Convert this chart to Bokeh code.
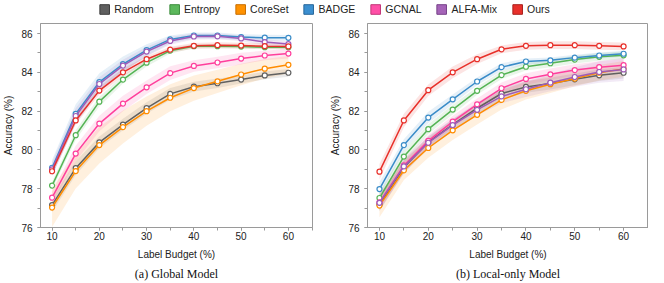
from bokeh.plotting import figure
from bokeh.layouts import column, row
from bokeh.models import ColumnDataSource, Legend, LegendItem, SingleIntervalTicker, Range1d
from bokeh.embed import file_html
from bokeh.resources import INLINE

budget = [10, 15, 20, 25, 30, 35, 40, 45, 50, 55, 60]
methods = ["Random", "Entropy", "CoreSet", "BADGE", "GCNAL", "ALFA-Mix", "Ours"]
colors = ["#606060", "#55b455", "#ff8c00", "#3a8cc8", "#ff3f9c", "#9e5cb8", "#e8302a"]
box_fill = ["#5f5f5f", "#5cb85c", "#ff9200", "#3b8fd0", "#ff4fa7", "#a564b8", "#e8302b"]
box_line = ["#3c3c3c", "#3e8e3e", "#c86e00", "#28679a", "#c23577", "#774289", "#a8201c"]

# (a) Global Model: mean accuracy
random_g = [77.15, 79.06, 80.39, 81.31, 82.16, 82.89, 83.26, 83.44, 83.63, 83.84, 83.98]
entropy_g = [78.16, 80.76, 82.49, 83.63, 84.50, 85.12, 85.35, 85.35, 85.33, 85.30, 85.29]
coreset_g = [77.03, 78.91, 80.25, 81.18, 82.00, 82.69, 83.19, 83.54, 83.89, 84.19, 84.39]
badge_g = [79.08, 81.86, 83.50, 84.42, 85.15, 85.70, 85.90, 85.90, 85.82, 85.79, 85.78]
gcnal_g = [77.54, 79.81, 81.36, 82.39, 83.23, 83.96, 84.33, 84.51, 84.71, 84.87, 84.97]
alfamix_g = [79.00, 81.75, 83.40, 84.35, 85.07, 85.62, 85.85, 85.86, 85.75, 85.56, 85.46]
ours_g = [78.90, 81.52, 83.06, 84.00, 84.68, 85.17, 85.37, 85.40, 85.38, 85.35, 85.34]

# (a) Global Model: std (shaded band)
random_g_sd = [0.35, 0.35, 0.30, 0.30, 0.30, 0.30, 0.25, 0.25, 0.20, 0.20, 0.20]
entropy_g_sd = [0.20, 0.25, 0.25, 0.20, 0.20, 0.15, 0.10, 0.10, 0.10, 0.10, 0.10]
coreset_g_sd = [1.00, 0.90, 0.95, 0.85, 0.75, 0.70, 0.65, 0.60, 0.55, 0.50, 0.45]
badge_g_sd = [0.40, 0.50, 0.45, 0.40, 0.30, 0.20, 0.15, 0.15, 0.15, 0.15, 0.15]
gcnal_g_sd = [0.30, 0.40, 0.40, 0.40, 0.35, 0.35, 0.30, 0.30, 0.30, 0.25, 0.25]
alfamix_g_sd = [0.35, 0.40, 0.35, 0.30, 0.25, 0.20, 0.15, 0.15, 0.15, 0.15, 0.15]
ours_g_sd = [0.20, 0.20, 0.20, 0.20, 0.15, 0.15, 0.15, 0.15, 0.15, 0.15, 0.15]

# (b) Local-only Model: mean accuracy
random_l = [77.20, 79.10, 80.40, 81.30, 82.15, 82.91, 83.25, 83.42, 83.64, 83.85, 83.98]
entropy_l = [77.52, 79.66, 81.07, 82.08, 83.05, 83.86, 84.29, 84.47, 84.66, 84.80, 84.88]
coreset_l = [77.13, 78.95, 80.10, 81.01, 81.81, 82.58, 83.05, 83.39, 83.68, 83.98, 84.18]
badge_l = [77.98, 80.25, 81.67, 82.61, 83.53, 84.27, 84.56, 84.62, 84.76, 84.87, 84.96]
gcnal_l = [77.30, 79.20, 80.47, 81.46, 82.35, 83.18, 83.66, 83.90, 84.12, 84.27, 84.37]
alfamix_l = [77.27, 79.15, 80.37, 81.28, 82.07, 82.76, 83.13, 83.47, 83.76, 84.02, 84.15]
ours_l = [78.88, 81.52, 83.08, 84.00, 84.68, 85.19, 85.37, 85.40, 85.40, 85.37, 85.34]

# (b) Local-only Model: std (shaded band)
random_l_sd = [0.35, 0.30, 0.30, 0.30, 0.30, 0.30, 0.30, 0.30, 0.30, 0.30, 0.30]
entropy_l_sd = [0.30, 0.30, 0.25, 0.25, 0.20, 0.20, 0.20, 0.20, 0.20, 0.20, 0.20]
coreset_l_sd = [0.60, 0.50, 0.50, 0.50, 0.50, 0.50, 0.45, 0.45, 0.40, 0.40, 0.40]
badge_l_sd = [0.35, 0.30, 0.30, 0.25, 0.20, 0.20, 0.15, 0.15, 0.15, 0.15, 0.15]
gcnal_l_sd = [0.40, 0.35, 0.30, 0.30, 0.30, 0.30, 0.30, 0.30, 0.30, 0.30, 0.30]
alfamix_l_sd = [0.40, 0.35, 0.30, 0.30, 0.30, 0.35, 0.40, 0.45, 0.50, 0.55, 0.60]
ours_l_sd = [0.40, 0.35, 0.30, 0.30, 0.25, 0.20, 0.20, 0.20, 0.20, 0.20, 0.20]

global_means = [random_g, entropy_g, coreset_g, badge_g, gcnal_g, alfamix_g, ours_g]
global_sds = [random_g_sd, entropy_g_sd, coreset_g_sd, badge_g_sd, gcnal_g_sd, alfamix_g_sd, ours_g_sd]
local_means = [random_l, entropy_l, coreset_l, badge_l, gcnal_l, alfamix_l, ours_l]
local_sds = [random_l_sd, entropy_l_sd, coreset_l_sd, badge_l_sd, gcnal_l_sd, alfamix_l_sd, ours_l_sd]

SANS = "Liberation Sans"
SERIF = "Liberation Serif"
GRAY = "#9a9a9a"


def make_panel(means, sds, caption, left_border, right_border):
    p = figure(width=left_border + 281 + right_border, height=264,
               x_range=Range1d(7.55, 65.1), y_range=Range1d(76, 86.52),
               toolbar_location=None, output_backend="svg",
               min_border_left=left_border, min_border_right=right_border,
               min_border_top=5, min_border_bottom=52,
               title=caption, title_location="below")
    p.title.align = "center"
    p.title.text_font = SERIF
    p.title.text_font_size = "12px"
    p.title.text_font_style = "normal"
    p.title.text_color = "#111111"
    p.title.standoff = 4
    p.xgrid.visible = False
    p.ygrid.visible = False
    p.outline_line_color = GRAY
    p.outline_line_width = 1
    p.background_fill_color = "white"
    p.border_fill_color = "white"

    p.xaxis.ticker = SingleIntervalTicker(interval=10, num_minor_ticks=2)
    p.yaxis.ticker = SingleIntervalTicker(interval=2, num_minor_ticks=2)
    p.xaxis.axis_label = "Label Budget (%)"
    p.yaxis.axis_label = "Accuracy (%)"
    for ax in (p.xaxis, p.yaxis):
        ax.axis_line_color = GRAY
        ax.major_tick_line_color = GRAY
        ax.minor_tick_line_color = GRAY
        ax.major_tick_out = 3
        ax.major_tick_in = 0
        ax.minor_tick_out = 3
        ax.minor_tick_in = 0
        ax.major_label_text_font = SANS
        ax.major_label_text_font_size = "10px"
        ax.major_label_text_color = "#222222"
        ax.axis_label_text_font = SANS
        ax.axis_label_text_font_size = "10px"
        ax.axis_label_text_font_style = "normal"
        ax.axis_label_text_color = "#222222"
    p.xaxis.major_label_standoff = 1
    p.xaxis.axis_label_standoff = 6
    p.yaxis.major_label_standoff = 5
    p.yaxis.axis_label_standoff = 4

    sources = []
    for m, s in zip(means, sds):
        lower = [a - b for a, b in zip(m, s)]
        upper = [a + b for a, b in zip(m, s)]
        sources.append(ColumnDataSource(dict(x=budget, y=m, lo=lower, hi=upper)))
    for src, c in zip(sources, colors):
        p.varea(x="x", y1="lo", y2="hi", source=src, fill_color=c, fill_alpha=0.13)
    for src, c in zip(sources, colors):
        p.line(x="x", y="y", source=src, line_color=c, line_width=1.5)
        p.scatter(x="x", y="y", source=src, marker="circle", size=5,
                  line_color=c, line_width=1.2, fill_color="white")
    return p


p_left = make_panel(global_means, global_sds, "(a) Global Model", 31, 12)
p_right = make_panel(local_means, local_sds, "(b) Local-only Model", 43, 0)

# legend strip across the top
p_leg = figure(width=648, height=18, x_range=(0, 1), y_range=(0, 1),
               toolbar_location=None, output_backend="svg",
               min_border=0, min_border_left=0, min_border_right=0,
               min_border_top=0, min_border_bottom=0)
p_leg.axis.visible = False
p_leg.xgrid.visible = False
p_leg.ygrid.visible = False
p_leg.outline_line_color = None
items = []
for name, fc, lc in zip(methods, box_fill, box_line):
    r = p_leg.rect(x=[-5], y=[-5], width=0.1, height=0.1, fill_color=fc, line_color=lc, line_width=1)
    items.append(LegendItem(label=name, renderers=[r]))
legend = Legend(items=items, orientation="horizontal", location="center",
                glyph_width=12, glyph_height=12, label_standoff=4, spacing=14,
                padding=0, margin=0, border_line_color=None, background_fill_alpha=0,
                label_text_font=SANS, label_text_font_size="10.5px",
                label_text_color="#222222", label_height=12)
p_leg.add_layout(legend, "center")

layout = column(p_leg, row(p_left, p_right, spacing=0), spacing=0)

open("out.html", "w").write(file_html(layout, INLINE))
